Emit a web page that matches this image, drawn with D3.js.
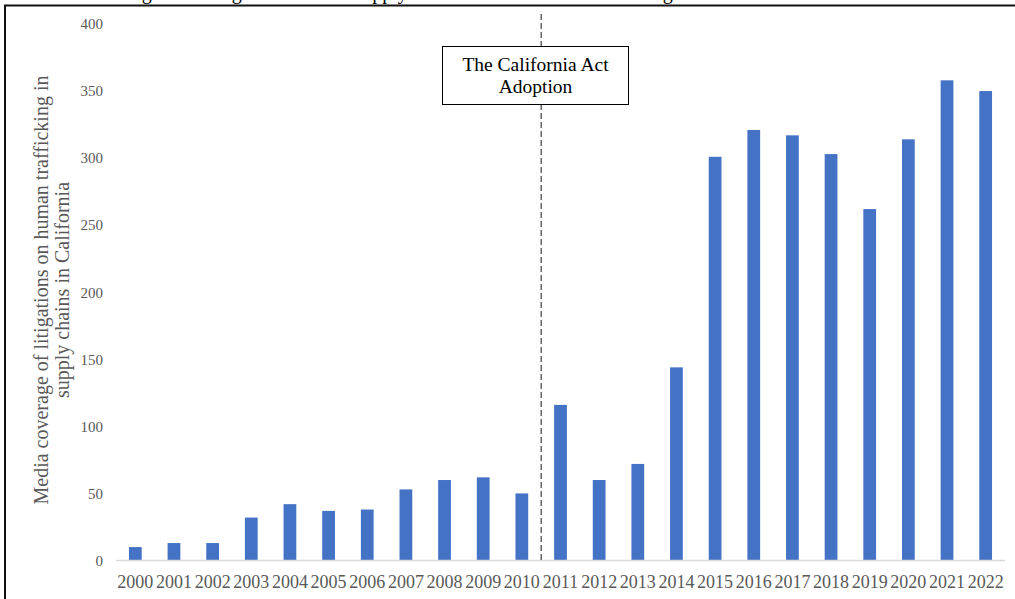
<!DOCTYPE html>
<html>
<head>
<meta charset="utf-8">
<script src="https://cdn.jsdelivr.net/npm/d3@7"></script>
<style>
  html, body { margin: 0; padding: 0; background: #fff; }
  svg { display: block; }
</style>
</head>
<body>
<svg id="chart" width="1015" height="599"></svg>
<script>
// Media coverage counts per year
const years = ["2000","2001","2002","2003","2004","2005","2006","2007","2008","2009","2010",
               "2011","2012","2013","2014","2015","2016","2017","2018","2019","2020","2021","2022"];
const coverage = [10, 13, 13, 32, 42, 37, 38, 53, 60, 62, 50,
                  116, 60, 72, 144, 301, 321, 317, 303, 262, 314, 358, 350];
const yTicks = [0, 50, 100, 150, 200, 250, 300, 350, 400];
const actYearBefore = "2010";
const actYearAfter = "2011";
const actLabel = ["The California Act", "Adoption"];
const yTitle = ["Media coverage of litigations on human trafficking in", "supply chains in California"];
const caption = "Figure 2: Litigation cases in supply chains in California and coverage";

const svg = d3.select("#chart");
const serif = "'Liberation Serif', 'Times New Roman', serif";

const x = d3.scaleBand().domain(years).range([116, 1005]).paddingInner(0.67).paddingOuter(0.335);
const y = d3.scaleLinear().domain([0, 400]).range([560.5, 24]);

// caption line above the frame (runs off the top of the page)
svg.append("text")
  .attr("x", 125).attr("y", -1.5)
  .attr("font-family", serif).attr("font-size", 20)
  .attr("fill", "#000")
  .text(caption);

// frame
svg.append("rect")
  .attr("x", 5).attr("y", 5.5)
  .attr("width", 1030).attr("height", 620)
  .attr("fill", "#fff").attr("stroke", "#111").attr("stroke-width", 2);

// y tick labels
svg.append("g").selectAll("text").data(yTicks).join("text")
  .attr("x", 103).attr("y", d => y(d))
  .attr("dy", "0.35em")
  .attr("text-anchor", "end")
  .attr("font-family", serif).attr("font-size", 15)
  .attr("fill", "#595959")
  .text(d => d);

// y axis title
const yt = svg.append("text")
  .attr("transform", "translate(0,290) rotate(-90)")
  .attr("text-anchor", "middle")
  .attr("font-family", serif).attr("font-size", 20)
  .attr("fill", "#595959");
yt.append("tspan").attr("x", 0).attr("y", 48).text(yTitle[0]);
yt.append("tspan").attr("x", 0).attr("y", 69).text(yTitle[1]);

// bars
svg.append("g").selectAll("rect").data(years).join("rect")
  .attr("x", d => x(d))
  .attr("y", (d, i) => y(coverage[i]))
  .attr("width", x.bandwidth())
  .attr("height", (d, i) => y(0) - y(coverage[i]))
  .attr("fill", "#4472c4");

// baseline
svg.append("line")
  .attr("x1", 116).attr("x2", 1005)
  .attr("y1", y(0)).attr("y2", y(0))
  .attr("stroke", "#d9d9d9").attr("stroke-width", 1.3);

// x labels
svg.append("g").selectAll("text").data(years).join("text")
  .attr("x", d => x(d) + x.bandwidth() / 2)
  .attr("y", 588)
  .attr("text-anchor", "middle")
  .attr("font-family", serif).attr("font-size", 18)
  .attr("fill", "#595959")
  .text(d => d);

// act adoption marker
const xAct = (x(actYearBefore) + x(actYearAfter) + x.bandwidth()) / 2;
svg.append("line")
  .attr("x1", xAct).attr("x2", xAct)
  .attr("y1", 14).attr("y2", y(0))
  .attr("stroke", "#404040").attr("stroke-width", 1.2)
  .attr("stroke-dasharray", "6,3");

svg.append("rect")
  .attr("x", 442.5).attr("y", 46.5)
  .attr("width", 186).attr("height", 58)
  .attr("fill", "#fff").attr("stroke", "#000").attr("stroke-width", 1);

svg.append("g").selectAll("text").data(actLabel).join("text")
  .attr("x", 535.5)
  .attr("y", (d, i) => 71 + i * 22)
  .attr("text-anchor", "middle")
  .attr("font-family", serif).attr("font-size", 19.5)
  .attr("fill", "#000")
  .text(d => d);
</script>
</body>
</html>
